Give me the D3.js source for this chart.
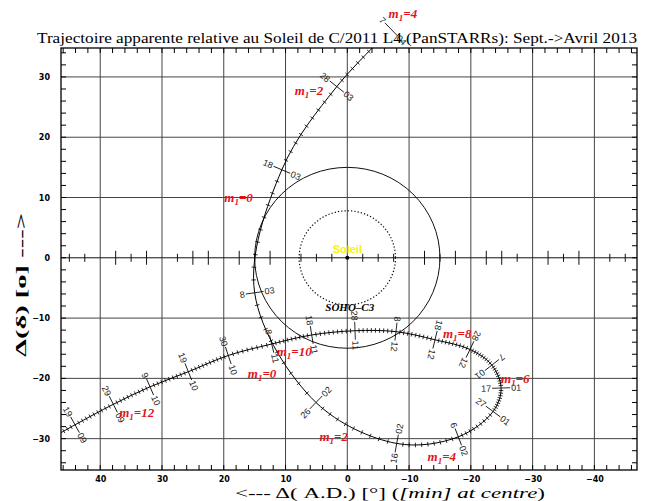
<!DOCTYPE html>
<html>
<head>
<meta charset="utf-8">
<script src="https://cdn.jsdelivr.net/npm/d3@7"></script>
<style>
body { margin: 0; background: #fff; }
</style>
</head>
<body>
<div id="chart"></div>
<script>
// axis ticks (degrees)
const xTicks = [40, 30, 20, 10, 0, -10, -20, -30, -40];
const yTicks = [30, 20, 10, 0, -10, -20, -30];

// comet position relative to the Sun, every 10 days (first one unlabelled)
const trajDates = ["15-09", "19-09", "29-09", "9-10", "19-10", "30-10", "8-11", "18-11", "28-11",
    "8-12", "18-12", "28-12", "7-01", "17-01", "27-01", "6-02", "16-02", "26-02",
    "8-03", "18-03", "28-03", "7-04"];
const trajX = [46.5, 44.08, 37.88, 31.94, 25.74, 19.27, 12.24, 5.76, -1.25,
    -7.88, -14.2, -19.86, -23.4, -24.9, -23.6, -17.97, -8.0, 5.07,
    15.0, 10.6, 1.7, -7.1];
const trajY = [-29.1, -27.7, -24.3, -21.4, -18.9, -16.2, -14.3, -12.8, -12.1,
    -12.25, -13.6, -15.2, -17.8, -21.6, -25.5, -29.7, -30.8, -24.0,
    -5.8, 14.6, 28.4, 37.9];

// magnitude annotations
const magText = ["4", "2", "0", "10", "0", "8", "6", "4", "2", "12"];
const magX = [-9.0, 6.2, 17.6, 8.6, 13.8, -17.8, -27.2, -15.3, 2.2, 34.1];
const magY = [40.4, 27.7, 9.9, -15.6, -19.3, -12.6, -20.1, -33.1, -29.8, -25.8];

// 15 deg circle and SOHO C3 field
const circleRadii = [15, 7.8];

const zeroTicks = d3.range(-45, 45.1, 2.5).filter(v => v % 10 !== 0);
const longZero = [12.5, 17.5, 22.5, 25, 32.5, 37.5];

const W = 650, H = 501;
const x = d3.scaleLinear().domain([46.35, -46.9]).range([61, 637]);
const y = d3.scaleLinear().domain([-35.2, 34.8]).range([470, 48]);

const svg = d3.select("#chart").append("svg")
    .attr("width", W)
    .attr("height", H);

svg.append("defs").append("clipPath").attr("id", "frame")
    .append("rect")
    .attr("x", x.range()[0]).attr("y", y.range()[1])
    .attr("width", x.range()[1] - x.range()[0])
    .attr("height", y.range()[0] - y.range()[1]);

// grid
svg.append("g").selectAll("line").data(xTicks).enter().append("line")
    .attr("x1", d => x(d)).attr("x2", d => x(d))
    .attr("y1", y.range()[0]).attr("y2", y.range()[1])
    .attr("stroke", "#444").attr("stroke-width", 1);
svg.append("g").selectAll("line").data(yTicks).enter().append("line")
    .attr("y1", d => y(d)).attr("y2", d => y(d))
    .attr("x1", x.range()[0]).attr("x2", x.range()[1])
    .attr("stroke", d => d === 0 ? "#111" : "#444").attr("stroke-width", 1);

// ticks on the zero line
svg.append("g").selectAll("line").data(zeroTicks).enter().append("line")
    .attr("x1", d => x(d)).attr("x2", d => x(d))
    .attr("y1", d => y(0) - (longZero.includes(Math.abs(d)) ? 7 : 4))
    .attr("y2", d => y(0) + (longZero.includes(Math.abs(d)) ? 7 : 4))
    .attr("stroke", "#111").attr("stroke-width", 1);

// frame with minor ticks
const minorX = d3.range(-46, 46.1, 2);
const minorY = d3.range(-34, 34.1, 2);
const ft = svg.append("g").attr("stroke", "#000").attr("stroke-width", 1);
minorX.forEach(v => {
    ft.append("line").attr("x1", x(v)).attr("x2", x(v)).attr("y1", y.range()[0]).attr("y2", y.range()[0] - 5);
    ft.append("line").attr("x1", x(v)).attr("x2", x(v)).attr("y1", y.range()[1]).attr("y2", y.range()[1] + 5);
});
minorY.forEach(v => {
    ft.append("line").attr("y1", y(v)).attr("y2", y(v)).attr("x1", x.range()[0]).attr("x2", x.range()[0] + 5);
    ft.append("line").attr("y1", y(v)).attr("y2", y(v)).attr("x1", x.range()[1]).attr("x2", x.range()[1] - 5);
});
svg.append("rect")
    .attr("x", x.range()[0]).attr("y", y.range()[1])
    .attr("width", x.range()[1] - x.range()[0])
    .attr("height", y.range()[0] - y.range()[1])
    .attr("fill", "none").attr("stroke", "#000").attr("stroke-width", 1.3);

// tick labels
svg.append("g")
    .attr("transform", `translate(0,${y.range()[0] + 3})`)
    .call(d3.axisBottom(x).tickValues(xTicks).tickSize(0).tickFormat(d3.format("d")))
    .call(g => g.select(".domain").remove())
    .selectAll("text")
    .style("font-family", "DejaVu Sans").style("font-weight", "bold").style("font-size", "8px");
svg.append("g")
    .attr("transform", `translate(${x.range()[0] - 8},0)`)
    .call(d3.axisLeft(y).tickValues(yTicks).tickSize(0).tickFormat(d3.format("d")))
    .call(g => g.select(".domain").remove())
    .selectAll("text")
    .style("font-family", "DejaVu Sans").style("font-weight", "bold").style("font-size", "8px");

// circles around the Sun
svg.append("g").selectAll("ellipse").data(circleRadii).enter().append("ellipse")
    .attr("cx", x(0)).attr("cy", y(0))
    .attr("rx", d => Math.abs(x(d) - x(0)))
    .attr("ry", d => y(0) - y(d))
    .attr("fill", "none").attr("stroke", "#111")
    .attr("stroke-width", (d, i) => i === 0 ? 1 : 1.2)
    .attr("stroke-dasharray", (d, i) => i === 0 ? null : "1.3,2");
svg.append("circle").attr("cx", x(0)).attr("cy", y(0)).attr("r", 2).attr("fill", "#000");

svg.append("text").attr("x", x(0)).attr("y", y(0) - 5)
    .attr("text-anchor", "middle")
    .style("font-family", "Liberation Sans").style("font-size", "11px").style("font-weight", "bold")
    .attr("fill", "#f5f500").text("Soleil");
svg.append("text").attr("x", x(-0.4)).attr("y", y(-8.2) + 4)
    .attr("text-anchor", "middle")
    .style("font-family", "Liberation Serif").style("font-size", "11px")
    .style("font-weight", "bold").style("font-style", "italic")
    .attr("fill", "#000").text("SOHO\u2013C3");

// trajectory
const pts = trajX.map((v, i) => [x(v), y(trajY[i])]);
const line = d3.line().curve(d3.curveCatmullRom.alpha(0.5));
const path = svg.append("path")
    .attr("d", line(pts))
    .attr("clip-path", "url(#frame)")
    .attr("fill", "none").attr("stroke", "#000").attr("stroke-width", 1);

const node = path.node();
const total = node.getTotalLength();
const step = 0.5;
const samples = d3.range(0, total + step, step).map(l => {
    const p = node.getPointAtLength(Math.min(l, total));
    return { l: Math.min(l, total), x: p.x, y: p.y };
});

// path length at each dated point
const lens = [];
let k0 = 0;
pts.forEach(p => {
    let k = k0;
    const dist = s => Math.hypot(s.x - p[0], s.y - p[1]);
    while (k < samples.length - 1 && dist(samples[k]) > 1.2) k++;
    while (k < samples.length - 1 && dist(samples[k + 1]) < dist(samples[k])) k++;
    lens.push(samples[k].l);
    k0 = k;
});

const dayNum = s => {
    const [d, m] = s.split("-").map(Number);
    return Date.UTC(m >= 8 ? 2012 : 2013, m - 1, d) / 864e5;
};
const days = trajDates.map(dayNum);

const tangentAt = l => {
    const a = node.getPointAtLength(Math.max(0, l - 0.8));
    const b = node.getPointAtLength(Math.min(total, l + 0.8));
    return Math.atan2(b.y - a.y, b.x - a.x);
};

// daily ticks
const dailyTicks = [];
for (let i = 0; i < pts.length - 1; i++) {
    const n = days[i + 1] - days[i];
    for (let j = 1; j < n; j++) dailyTicks.push(lens[i] + (lens[i + 1] - lens[i]) * j / n);
}
svg.append("g").attr("clip-path", "url(#frame)")
    .selectAll("line").data(dailyTicks).enter().append("line")
    .each(function (l) {
        const p = node.getPointAtLength(l);
        const t = tangentAt(l) + Math.PI / 2;
        d3.select(this)
            .attr("x1", p.x - 2.3 * Math.cos(t)).attr("y1", p.y - 2.3 * Math.sin(t))
            .attr("x2", p.x + 2.3 * Math.cos(t)).attr("y2", p.y + 2.3 * Math.sin(t));
    })
    .attr("stroke", "#000").attr("stroke-width", 0.8);

// date labels across the curve
const dateG = svg.append("g");
trajDates.forEach((s, i) => {
    if (i === 0) return;
    const [dd, mm] = s.split("-");
    let ang = (tangentAt(lens[i]) * 180 / Math.PI) + 90;
    if (ang < -90) ang += 360;
    if (ang >= 160) ang -= 180;
    const g = dateG.append("g")
        .attr("transform", `translate(${pts[i][0]},${pts[i][1]}) rotate(${ang})`);
    g.append("line").attr("x1", -9).attr("x2", 9).attr("y1", 0).attr("y2", 0)
        .attr("stroke", "#000").attr("stroke-width", 0.8);
    g.append("text").attr("x", -10).attr("y", 0).attr("dy", "0.35em")
        .attr("text-anchor", "end").text(dd);
    g.append("text").attr("x", 10).attr("y", 0).attr("dy", "0.35em")
        .attr("text-anchor", "start").text(mm);
});
dateG.selectAll("text")
    .style("font-family", "Liberation Sans").style("font-size", "9px").attr("fill", "#222");

// magnitude labels
magText.forEach((m, i) => {
    const t = svg.append("text")
        .attr("x", x(magX[i])).attr("y", y(magY[i]) + 4)
        .attr("text-anchor", "middle")
        .style("font-family", "Liberation Serif").style("font-size", "13px")
        .style("font-weight", "bold").style("font-style", "italic")
        .attr("fill", "#e3141b");
    t.append("tspan").text("m");
    t.append("tspan").attr("dy", 3).style("font-size", "9px").text("1");
    t.append("tspan").attr("dy", -3).text("=" + m);
});

// title and axis titles
svg.append("text").attr("x", 337).attr("y", 43)
    .attr("text-anchor", "middle")
    .attr("textLength", 600).attr("lengthAdjust", "spacingAndGlyphs")
    .style("font-family", "Liberation Serif").style("font-size", "14px")
    .text("Trajectoire apparente relative au Soleil de C/2011 L4 (PanSTARRs): Sept.->Avril 2013");

const xl = svg.append("text").attr("x", 235).attr("y", 498)
    .attr("textLength", 310).attr("lengthAdjust", "spacingAndGlyphs")
    .style("font-family", "Liberation Serif").style("font-size", "15px");
xl.append("tspan").text("<--- \u0394( A.D.) [\u00b0] (");
xl.append("tspan").style("font-style", "italic").text("[min] at centre");
xl.append("tspan").text(")");

svg.append("text")
    .attr("transform", "translate(26,357) rotate(-90)")
    .attr("textLength", 144).attr("lengthAdjust", "spacingAndGlyphs")
    .style("font-family", "Liberation Serif").style("font-size", "15px").style("font-weight", "bold")
    .text("\u0394(\u03b4) [o] --->");
</script>
</body>
</html>
